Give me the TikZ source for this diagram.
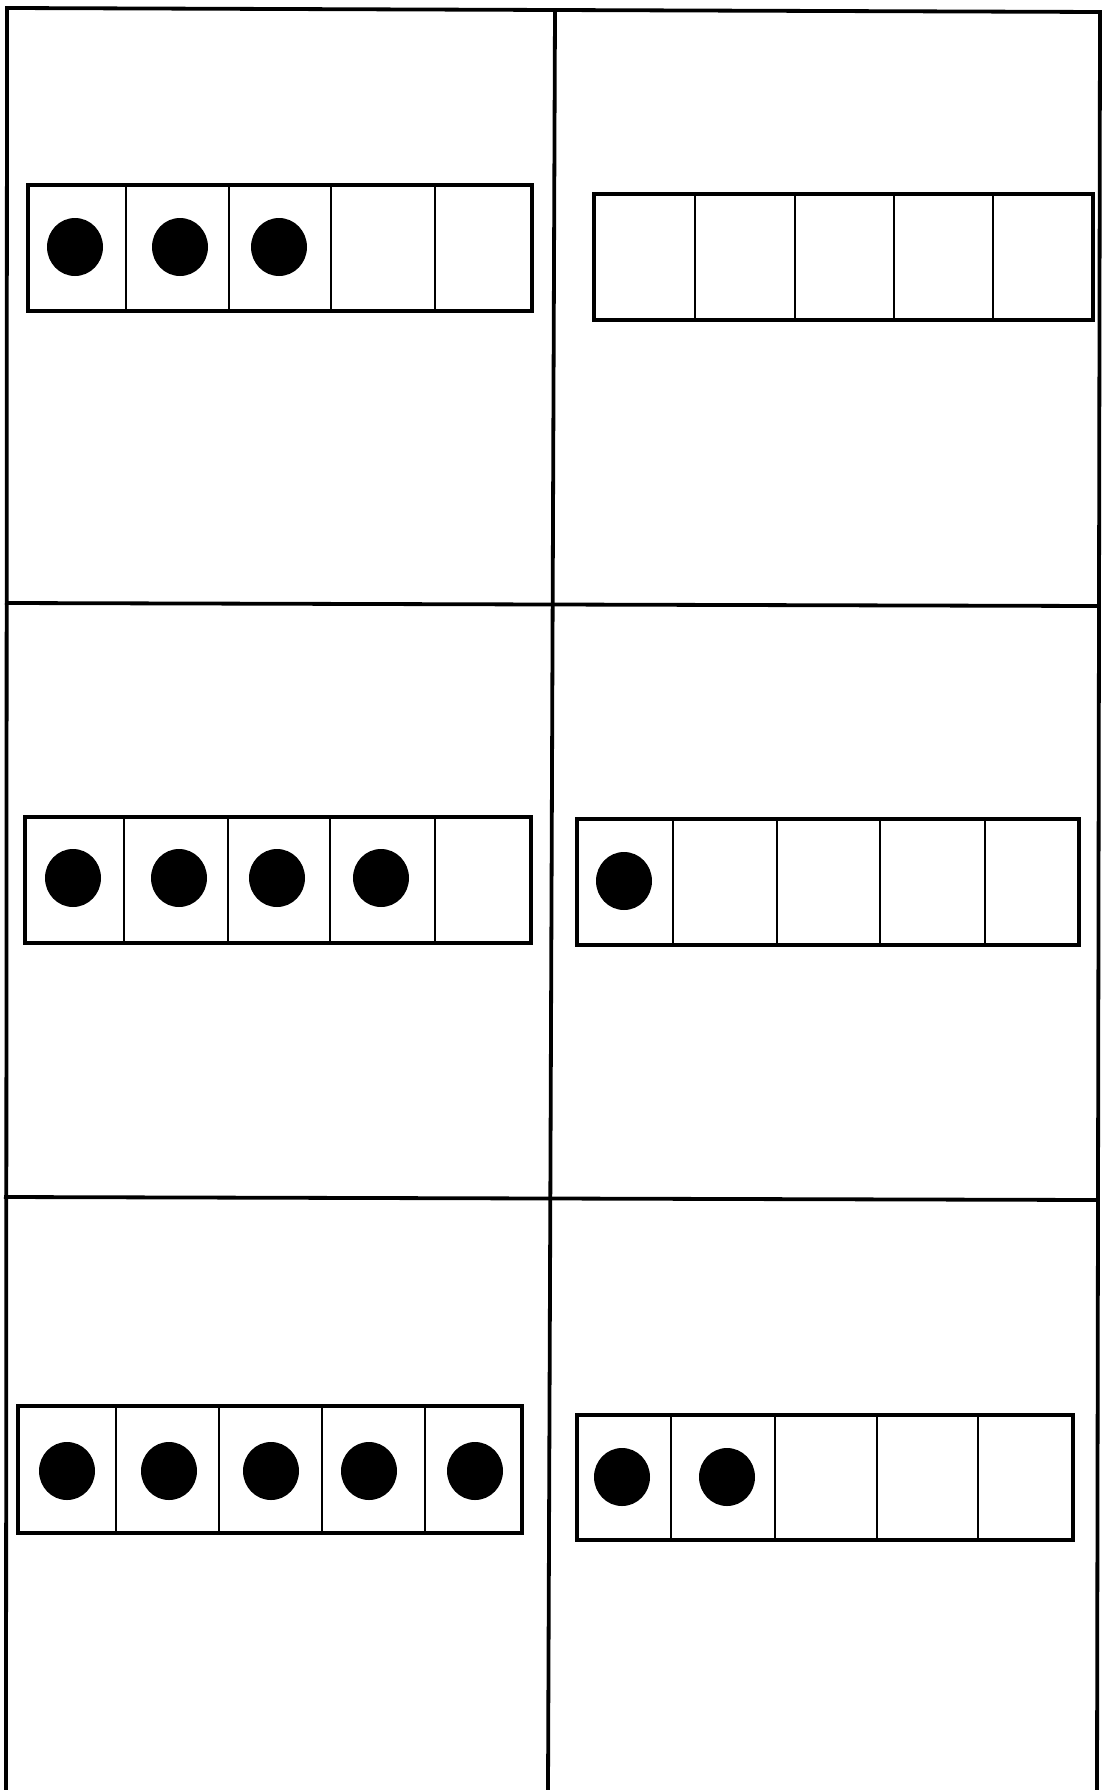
\documentclass[tikz,border=0pt]{standalone}
\begin{document}
\begin{tikzpicture}[x=1pt,y=-1pt,
  gridline/.style={line width=3.8pt,black},
  frameline/.style={line width=4pt,black},
  cellline/.style={line width=2.8pt,black},
  counter/.style={fill=black}]
\useasboundingbox (0,0) rectangle (1101,1790);
% outer grid
\draw[gridline] (6,1790) -- (7,8) -- (1100,12) -- (1097,1790);
\draw[gridline] (555,9) -- (548,1790);
\draw[gridline] (5,603) -- (1098,606);
\draw[gridline] (4,1197) -- (1097,1200);
% frame 1 (3 counters)
\draw[frameline] (28,185) rectangle (532,311);
\foreach \x in {126,229,331,435} \draw[cellline] (\x,185) -- (\x,311);
\foreach \x in {75,180,279} \fill[counter] (\x,247) ellipse (28 and 29);
% frame 2 (0 counters)
\draw[frameline] (594,194) rectangle (1093,320);
\foreach \x in {695,795,894,993} \draw[cellline] (\x,194) -- (\x,320);
% frame 3 (4 counters)
\draw[frameline] (25,817) rectangle (531,943);
\foreach \x in {124,228,330,435} \draw[cellline] (\x,817) -- (\x,943);
\foreach \x in {73,179,277,381} \fill[counter] (\x,878) ellipse (28 and 29);
% frame 4 (1 counter)
\draw[frameline] (577,819) rectangle (1079,945);
\foreach \x in {673,777,880,985} \draw[cellline] (\x,819) -- (\x,945);
\fill[counter] (624,881) ellipse (28 and 29);
% frame 5 (5 counters)
\draw[frameline] (18,1406) rectangle (522,1533);
\foreach \x in {116,219,322,425} \draw[cellline] (\x,1406) -- (\x,1533);
\foreach \x in {67,169,271,369,475} \fill[counter] (\x,1471) ellipse (28 and 29);
% frame 6 (2 counters)
\draw[frameline] (577,1415) rectangle (1073,1540);
\foreach \x in {671,775,877,978} \draw[cellline] (\x,1415) -- (\x,1540);
\foreach \x in {622,727} \fill[counter] (\x,1477) ellipse (28 and 29);
\end{tikzpicture}
\end{document}
